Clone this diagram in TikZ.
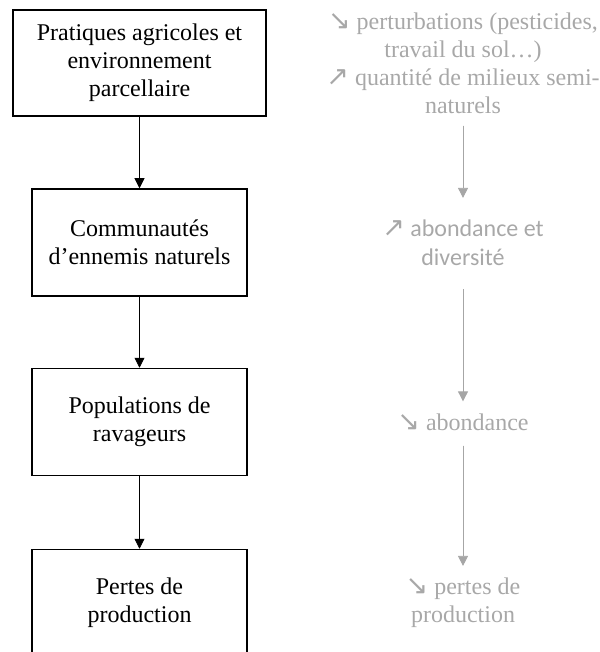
\documentclass[tikz,border=0pt]{standalone}
\usepackage{fontspec}
\setmainfont{Liberation Serif}
\newfontfamily\calib{Carlito}
\newfontfamily\arrowfont{DejaVu Sans}
\usetikzlibrary{arrows.meta}
\definecolor{lightgr}{RGB}{168,168,168}
\definecolor{arrgr}{RGB}{166,166,166}
\newcommand{\arrdn}{\smash{\arrowfont\fontsize{27}{28}\selectfont ↘}}
\newcommand{\arrup}{\smash{\arrowfont\fontsize{27}{28}\selectfont ↗}}
\begin{document}
\begin{tikzpicture}[x=1pt,y=-1pt,
  box/.style={draw, line width=1.5pt, minimum width=215pt, minimum height=107pt,
    align=center, font=\fontsize{24}{28}\selectfont, inner sep=0pt},
  note/.style={text=lightgr, align=center, font=\fontsize{24}{28}\selectfont, inner sep=0pt},
  conn/.style={-{Triangle[width=10pt,length=10pt]}, line width=0.8pt},
  gconn/.style={draw=arrgr, fill=arrgr, -{Triangle[width=10pt,length=10pt]}, line width=0.8pt}]
\clip (0,0) rectangle (599,652);
\node[box, minimum width=253pt, minimum height=106pt] (b1) at (139.5,63)
  {Pratiques agricoles et\\environnement\\parcellaire};
\node[box] (b2) at (139.5,242.5) {Communautés\\d’ennemis naturels};
\node[box] (b3) at (139.5,422) {Populations de\\ravageurs};
\node[box] (b4) at (139.5,603) {Pertes de\\production};
\draw[conn] (b1) -- (b2);
\draw[conn] (b2) -- (b3);
\draw[conn] (b3) -- (b4);

\node[note] (r1) at (463,63)
  {\arrdn{} perturbations (pesticides,\\travail du sol…)\\\arrup{} quantité de milieux semi-\\naturels};
\node[note, font=\calib\fontsize{24}{29}\selectfont] (r2) at (463,243)
  {\arrup{} abondance et\\diversité};
\node[note] (r3) at (463,422) {\arrdn{} abondance};
\node[note] (r4) at (463,603) {\arrdn{} pertes de\\production};
\draw[gconn, shorten <=12pt, shorten >=22pt] (r1.south) -- (r2.north);
\draw[gconn, shorten <=23pt, shorten >=12pt] (r2.south) -- (r3.north);
\draw[gconn, shorten <=15pt, shorten >=12pt] (r3.south) -- (r4.north);
\end{tikzpicture}
\end{document}
